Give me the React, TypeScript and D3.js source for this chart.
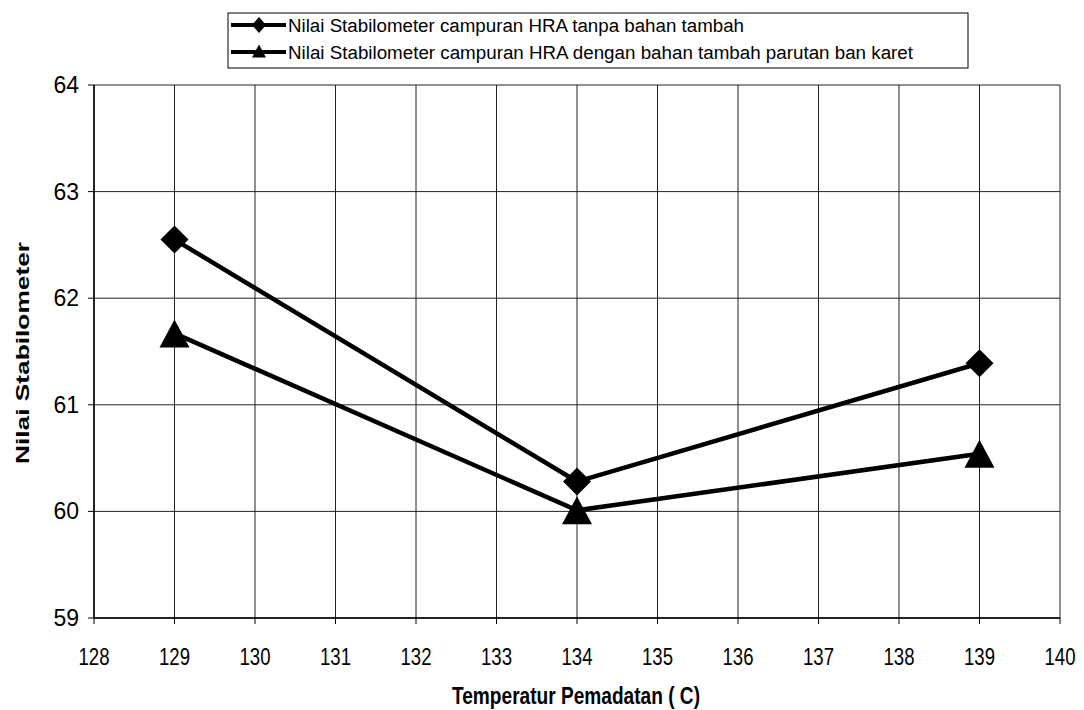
import React from "react";
import * as d3 from "d3";

// Compaction temperature (°C) and stabilometer readings
const temperatures = [129, 134, 139];
const stabNoAdditive = [62.55, 60.28, 61.39];
const stabRubberAdditive = [61.67, 60.01, 60.54];
const xTicks = [128, 129, 130, 131, 132, 133, 134, 135, 136, 137, 138, 139, 140];
const yTicks = [59, 60, 61, 62, 63, 64];
const legendLabels = [
  "Nilai Stabilometer campuran HRA tanpa bahan tambah",
  "Nilai Stabilometer campuran HRA dengan bahan tambah parutan ban karet",
];
const legendTextWidths = [456, 625];

const W = 1084;
const H = 710;
const plot = { left: 94, right: 1060, top: 85, bottom: 618 };
const FONT = "'Liberation Sans', Arial, sans-serif";

export default function App() {
  const x = d3.scaleLinear().domain([128, 140]).range([plot.left, plot.right]);
  const y = d3.scaleLinear().domain([59, 64]).range([plot.bottom, plot.top]);

  const line = d3
    .line<[number, number]>()
    .x((d) => x(d[0]))
    .y((d) => y(d[1]));

  const s1: [number, number][] = temperatures.map((t, i) => [t, stabNoAdditive[i]]);
  const s2: [number, number][] = temperatures.map((t, i) => [t, stabRubberAdditive[i]]);

  const diamond = (cx: number, cy: number, rx: number, ry: number) =>
    `M${cx},${cy - ry}L${cx + rx},${cy}L${cx},${cy + ry}L${cx - rx},${cy}Z`;
  const triangle = (cx: number, cy: number, w: number, h: number) =>
    `M${cx},${cy - h / 2}L${cx + w / 2},${cy + h / 2}L${cx - w / 2},${cy + h / 2}Z`;

  const legend = { x: 228, y: 13, w: 740, h: 55 };

  return (
    <svg
      width={W}
      height={H}
      viewBox={`0 0 ${W} ${H}`}
      style={{ position: "absolute", left: 0, top: 0, background: "#fff" }}
    >
      <rect x={0} y={0} width={W} height={H} fill="#fff" />

      {/* grid */}
      {xTicks.map((t) => (
        <line key={`gx${t}`} x1={x(t)} x2={x(t)} y1={plot.top} y2={plot.bottom} stroke="#222" strokeWidth={1} />
      ))}
      {yTicks.map((t) => (
        <line key={`gy${t}`} x1={plot.left} x2={plot.right} y1={y(t)} y2={y(t)} stroke="#222" strokeWidth={1} />
      ))}

      {/* tick marks */}
      {xTicks.map((t) => (
        <line key={`tx${t}`} x1={x(t)} x2={x(t)} y1={plot.bottom} y2={plot.bottom + 6} stroke="#000" strokeWidth={1} />
      ))}
      {yTicks.map((t) => (
        <line key={`ty${t}`} x1={plot.left - 6} x2={plot.left} y1={y(t)} y2={y(t)} stroke="#000" strokeWidth={1} />
      ))}

      {/* axes */}
      <line x1={plot.left} x2={plot.left} y1={plot.top} y2={plot.bottom} stroke="#000" strokeWidth={1.5} />
      <line x1={plot.left} x2={plot.right} y1={plot.bottom} y2={plot.bottom} stroke="#000" strokeWidth={1.5} />

      {/* tick labels */}
      {xTicks.map((t) => (
        <text
          key={`lx${t}`}
          x={x(t) - 15.5}
          y={plot.bottom + 47}
          textLength={31}
          lengthAdjust="spacingAndGlyphs"
          fontFamily={FONT}
          fontSize={23}
          fill="#000"
        >
          {t}
        </text>
      ))}
      {yTicks.map((t) => (
        <text key={`ly${t}`} x={plot.left - 15} y={y(t) + 8} textAnchor="end" fontFamily={FONT} fontSize={23} fill="#000">
          {t}
        </text>
      ))}

      {/* axis titles */}
      <text
        x={452}
        y={704}
        textLength={248}
        lengthAdjust="spacingAndGlyphs"
        fontFamily={FONT}
        fontSize={24}
        fontWeight="bold"
        fill="#000"
      >
        Temperatur Pemadatan ( C)
      </text>
      <text
        transform={`translate(29, ${464}) rotate(-90)`}
        textLength={222}
        lengthAdjust="spacingAndGlyphs"
        fontFamily={FONT}
        fontSize={19}
        fontWeight="bold"
        fill="#000"
      >
        Nilai Stabilometer
      </text>

      {/* series lines */}
      <path d={line(s1) || ""} fill="none" stroke="#000" strokeWidth={4.5} />
      <path d={line(s2) || ""} fill="none" stroke="#000" strokeWidth={4.5} />

      {/* markers */}
      {s1.map((d, i) => (
        <path key={`m1${i}`} d={diamond(x(d[0]), y(d[1]), 14, 14)} fill="#000" />
      ))}
      {s2.map((d, i) => (
        <path key={`m2${i}`} d={triangle(x(d[0]), y(d[1]), 30, 28)} fill="#000" />
      ))}

      {/* legend */}
      <rect x={legend.x} y={legend.y} width={legend.w} height={legend.h} fill="#fff" stroke="#000" strokeWidth={1} />
      {legendLabels.map((label, i) => {
        const ly = 25 + i * 27;
        const lx0 = 231;
        const lx1 = 286;
        const mx = 259;
        return (
          <g key={`lg${i}`}>
            <line x1={lx0} x2={lx1} y1={ly} y2={ly} stroke="#000" strokeWidth={4} />
            {i === 0 ? (
              <path d={diamond(mx, ly, 7, 8)} fill="#000" />
            ) : (
              <path d={triangle(mx, ly - 1, 14, 13)} fill="#000" />
            )}
            <text
              x={288}
              y={ly + 7}
              textLength={legendTextWidths[i]}
              lengthAdjust="spacingAndGlyphs"
              fontFamily={FONT}
              fontSize={18}
              fill="#000"
            >
              {label}
            </text>
          </g>
        );
      })}
    </svg>
  );
}
